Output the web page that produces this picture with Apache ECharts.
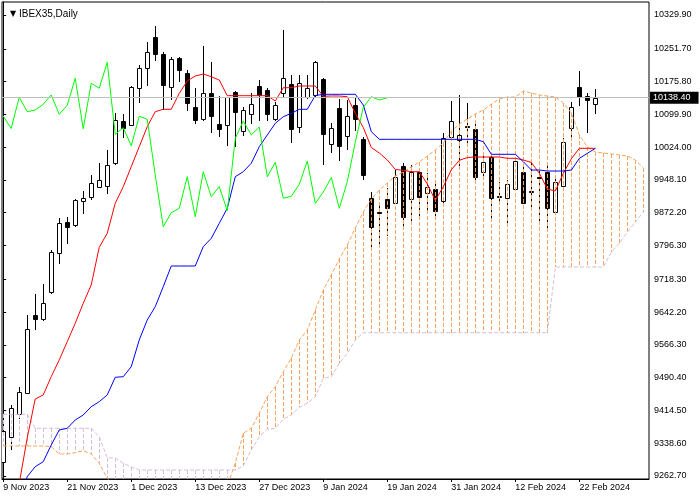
<!DOCTYPE html>
<html>
<head>
<meta charset="utf-8">
<script src="https://cdn.jsdelivr.net/npm/echarts@6/dist/echarts.min.js"></script>
<style>
  html, body { margin: 0; background: #fff; }
  #chart { width: 700px; height: 500px; }
</style>
</head>
<body>
<div id="chart"></div>
<script>
// date labels on the time axis (bar index -> label)
const dateBars = [0, 8, 16, 24, 32, 40, 48, 56, 64, 72];
const dateLabels = ['9 Nov 2023', '21 Nov 2023', '1 Dec 2023', '13 Dec 2023', '27 Dec 2023',
  '9 Jan 2024', '19 Jan 2024', '31 Jan 2024', '12 Feb 2024', '22 Feb 2024'];

// price scale tick labels
const priceTicks = [9262.7, 9338.6, 9414.5, 9490.4, 9566.3, 9642.2, 9718.3, 9796.3,
  9872.2, 9948.1, 10024.0, 10099.9, 10175.8, 10251.7, 10329.9];

// daily candles, bar 0 = 9 Nov 2023
const opens = [9295.8, 9352.2, 9406.2, 9454.1, 9635.4, 9626.8, 9689.3, 9778.2, 9850.7, 9843.0,
  9898.6, 9907.8, 9931.0, 9933.3, 9986.6, 10084.5, 10074.5, 10160.2, 10206.5, 10278.3,
  10238.9, 10163.9, 10229.6, 10194.9, 10116.2, 10088.4, 10148.6, 10076.8, 10074.5, 10151.6,
  10061.3, 10100.0, 10165.5, 10156.2, 10088.4, 10150.0, 10170.1, 10071.3, 10139.4, 10144.0,
  10181.7, 10031.2, 10113.9, 10049.1, 10121.5, 10042.8, 9905.5, 9873.8, 9903.2, 9894.0,
  9980.3, 9903.2, 9967.1, 9917.1, 9926.4, 9899.3, 10047.4, 10040.5, 10072.2, 10065.9,
  9967.1, 10001.8, 9911.6, 9905.5, 9926.4, 9965.7, 9921.3, 9954.8, 9967.1, 9873.1,
  9934.0, 10067.6, 10162.5, 10142.4, 10123.1];
const highs = [9419.4, 9427.0, 9468.0, 9635.4, 9684.0, 9707.1, 9785.8, 9859.2, 9861.6, 9903.0,
  9921.7, 9959.5, 9986.6, 10017.3, 10102.3, 10100.7, 10165.5, 10214.1, 10266.7, 10304.4,
  10244.2, 10233.3, 10232.6, 10202.5, 10160.2, 10258.1, 10221.8, 10142.4, 10141.2, 10154.6,
  10117.6, 10148.6, 10178.7, 10160.2, 10129.2, 10295.1, 10191.0, 10191.0, 10191.0, 10222.7,
  10184.0, 10080.5, 10135.4, 10133.1, 10137.0, 10047.4, 9920.1, 9897.7, 9929.4, 9971.0,
  9986.6, 9982.6, 9975.0, 9963.4, 9937.9, 10056.0, 10130.8, 10144.7, 10125.5, 10079.2,
  10009.7, 10005.8, 9943.9, 9947.9, 9998.1, 9978.7, 9986.6, 9978.7, 9986.6, 9951.8,
  10044.4, 10129.2, 10200.2, 10150.0, 10157.9];
const lows = [9284.2, 9324.5, 9397.6, 9454.1, 9602.3, 9624.5, 9687.0, 9756.4, 9802.7, 9841.0,
  9872.2, 9903.2, 9931.0, 9918.5, 9984.9, 10048.1, 10074.5, 10129.2, 10167.8, 10225.7,
  10111.6, 10135.3, 10177.8, 10109.9, 10080.5, 10086.8, 10059.7, 10050.5, 10028.9, 10026.6,
  10051.4, 10080.5, 10086.8, 10086.8, 10086.8, 10142.4, 10035.2, 10059.7, 10137.7, 10142.4,
  9984.2, 10013.4, 9994.2, 10019.7, 10063.6, 9949.5, 9792.8, 9792.8, 9820.6, 9894.0,
  9843.7, 9847.7, 9862.9, 9874.5, 9862.9, 9894.7, 10040.5, 9978.7, 10036.6, 9943.9,
  9955.5, 9862.9, 9894.0, 9846.9, 9926.4, 9894.0, 9886.1, 9851.4, 9839.8, 9873.1,
  9934.0, 10048.1, 10121.5, 10059.7, 10102.3];
const closes = [9367.5, 9419.4, 9456.4, 9602.3, 9626.8, 9662.5, 9780.5, 9847.3, 9839.8, 9900.9,
  9905.5, 9940.3, 9947.9, 9982.0, 10086.8, 10067.6, 10162.5, 10206.5, 10243.5, 10238.9,
  10167.1, 10227.3, 10202.5, 10125.5, 10086.8, 10148.6, 10096.1, 10067.1, 10139.4, 10106.0,
  10109.9, 10123.1, 10144.7, 10100.0, 10120.8, 10183.3, 10066.7, 10171.8, 10160.2, 10220.4,
  10053.7, 10069.0, 10027.3, 10095.4, 10088.4, 9959.5, 9839.8, 9872.2, 9882.4, 9955.5,
  9862.9, 9967.1, 9909.2, 9932.4, 9876.8, 10044.4, 10084.5, 10052.1, 10070.6, 9955.5,
  9988.9, 9905.5, 9910.2, 9937.9, 9991.9, 9894.0, 9920.1, 9953.7, 9882.4, 9944.0,
  10035.9, 10116.2, 10140.7, 10133.1, 10138.4];

// Ichimoku lines
const tenkan = [9190, 9220, 9245, 9350.6, 9440.9, 9450.2, 9492.5, 9531.2, 9573.6, 9616.2,
  9662.5, 9704.8, 9792.1, 9824.5, 9894.0, 9932.4, 9978.7, 10025.0, 10071.3, 10106.0,
  10111.6, 10111.6, 10148.6, 10177.1, 10188.7, 10193.3, 10187.0, 10179.4, 10143.1, 10143.1,
  10143.1, 10143.1, 10143.1, 10143.1, 10130.8, 10161.6, 10161.6, 10165.5, 10165.5, 10165.5,
  10141.7, 10142.4, 10142.4, 10140.7, 10102.3, 10069.4, 10023.1, 10010.4, 9994.2, 9972.2,
  9970.4, 9967.1, 9967.1, 9938.6, 9900.4, 9932.4, 9971.7, 9993.5, 10000.0, 10001.1,
  10001.1, 10001.1, 10001.1, 9998.1, 9998.1, 9994.2, 9988.4, 9963.4, 9927.1, 9922.4,
  9963.4, 9997.2, 10021.3, 10021.3, 10021.3];
const kijun = [9150, 9170, 9200, 9261.0, 9284.2, 9295.8, 9334.4, 9369.1, 9373.1, 9392.3,
  9403.9, 9423.1, 9434.7, 9450.2, 9491.2, 9492.5, 9515.7, 9577.5, 9623.8, 9654.6,
  9700.9, 9748.8, 9748.8, 9748.8, 9748.8, 9793.5, 9812.9, 9847.7, 9882.4, 9955.5,
  9967.1, 9986.6, 10025.0, 10052.1, 10079.2, 10094.4, 10102.3, 10111.6, 10111.6, 10143.5,
  10146.3, 10146.3, 10146.3, 10146.3, 10146.3, 10121.5, 10059.7, 10042.1, 10042.1, 10042.1,
  10042.1, 10042.1, 10042.1, 10042.1, 10042.1, 10042.1, 10042.1, 10042.1, 10042.1, 10042.1,
  10036.6, 10007.4, 10007.4, 10007.4, 10007.4, 9990.3, 9971.0, 9971.0, 9968.7, 9968.7,
  9968.7, 9971.0, 9998.1, 10009.7, 10021.3];
// lagging span, bars 0..48
const chikou = [10096.1, 10067.1, 10139.4, 10106.0, 10109.9, 10123.1, 10144.7, 10100.0, 10120.8, 10183.3,
  10066.7, 10171.8, 10160.2, 10220.4, 10053.7, 10069.0, 10027.3, 10095.4, 10088.4, 9959.5,
  9839.8, 9872.2, 9882.4, 9955.5, 9862.9, 9967.1, 9909.2, 9932.4, 9876.8, 10044.4,
  10084.5, 10052.1, 10070.6, 9955.5, 9988.9, 9905.5, 9910.2, 9937.9, 9991.9, 9894.0,
  9920.1, 9953.7, 9882.4, 9944.0, 10035.9, 10116.2, 10140.7, 10133.1, 10138.4];
// cloud, bars 0..80 (26 bars past the last candle)
const spanA = [9332.1, 9332.1, 9332.1, 9332.1, 9332.1, 9332.1, 9330.5, 9313.6, 9313.6, 9316.6,
  9321.2, 9313.6, 9292.1, 9257.3, 9240, 9240, 9240, 9240, 9240, 9240,
  9240, 9240, 9240, 9240, 9240, 9240, 9240, 9240, 9240, 9292.1,
  9361.5, 9373.1, 9407.8, 9446.2, 9469.4, 9504.1, 9535.1, 9577.5, 9600.6, 9646.9,
  9693.2, 9728.0, 9765.0, 9797.4, 9836.8, 9873.8, 9903.9, 9924.7, 9941.0, 9957.2,
  9966.4, 9978.0, 9989.6, 10003.5, 10017.3, 10033.6, 10061.3, 10077.5, 10089.1, 10100.7,
  10109.9, 10123.8, 10135.4, 10140.0, 10140.0, 10153.9, 10149.3, 10144.7, 10142.4, 10140.0,
  10126.2, 10103.0, 10052.1, 10024.3, 10012.7, 10010.4, 10008.1, 10005.8, 10003.5, 9994.2,
  9975.7];
const spanB = [9405.5, 9405.5, 9405.5, 9405.5, 9373.1, 9373.1, 9373.1, 9373.1, 9373.1, 9373.1,
  9373.1, 9373.1, 9353.6, 9305.0, 9304.3, 9292.1, 9283.5, 9276.5, 9276.5, 9276.5,
  9276.5, 9276.5, 9276.5, 9276.5, 9276.5, 9276.5, 9276.5, 9276.5, 9276.5, 9276.5,
  9285.8, 9322.8, 9353.6, 9370.8, 9373.1, 9393.9, 9403.9, 9421.7, 9431.0, 9446.2,
  9488.8, 9492.5, 9523.6, 9546.7, 9577.5, 9594.4, 9594.4, 9594.4, 9594.4, 9594.4,
  9594.4, 9594.4, 9594.4, 9594.4, 9594.4, 9594.4, 9594.4, 9594.4, 9594.4, 9594.4,
  9594.4, 9594.4, 9594.4, 9594.4, 9594.4, 9594.4, 9594.4, 9594.4, 9594.4, 9746.5,
  9746.5, 9746.5, 9746.5, 9746.5, 9746.5, 9746.5, 9781.2, 9802.1, 9827.5, 9850.7,
  9873.8];

const FONT = 'Liberation Sans';
const UP_KUMO = '#F4A460';
const DOWN_KUMO = '#D8BFD8';
const lastClose = closes[closes.length - 1];

const candleData = opens.map((o, i) => [i, o, highs[i], lows[i], closes[i]]);
const cloudData = spanA.map((a, i) => [i, a, spanB[i]]);
const toXY = (arr, offset = 0) => arr.map((v, i) => [i + offset, v]);

// MT4 style candle: hollow white up bar, filled black down bar
function renderCandle(params, api) {
  const k = api.value(0);
  const o = api.value(1), h = api.value(2), l = api.value(3), c = api.value(4);
  const x = Math.round(api.coord([k, o])[0]) + 0.5;
  const yo = api.coord([k, o])[1];
  const yc = api.coord([k, c])[1];
  const yh = api.coord([k, h])[1];
  const yl = api.coord([k, l])[1];
  const top = Math.round(Math.min(yo, yc)) + 0.5;
  const bot = Math.max(Math.round(Math.max(yo, yc)) + 0.5, top + 1);
  return {
    type: 'group',
    children: [
      { type: 'line', shape: { x1: x, y1: Math.round(yh), x2: x, y2: Math.round(yl) + 1 },
        style: { stroke: '#000', lineWidth: 1 } },
      { type: 'rect', shape: { x: x - 2, y: top, width: 4, height: bot - top },
        style: { fill: c >= o ? '#fff' : '#000', stroke: '#000', lineWidth: 1 } }
    ]
  };
}

// dashed vertical hatching between the two spans, snapped to whole pixels
function renderCloud(params, api) {
  const k = api.value(0);
  const a = api.value(1), b = api.value(2);
  const p1 = api.coord([k, a]);
  const p2 = api.coord([k, b]);
  const x = Math.round(p1[0]) + 0.5;
  const y1 = Math.round(Math.min(p1[1], p2[1]));
  const y2 = Math.round(Math.max(p1[1], p2[1]));
  return {
    type: 'line',
    shape: { x1: x, y1: y1, x2: x, y2: y2 },
    style: { stroke: a >= b ? UP_KUMO : DOWN_KUMO, lineWidth: 1, lineDash: [4, 2] }
  };
}

const chart = echarts.init(document.getElementById('chart'), null, { renderer: 'canvas' });

chart.setOption({
  animation: false,
  backgroundColor: '#fff',
  title: {
    left: 5, top: 4,
    text: '{t|▼} IBEX35,Daily',
    textStyle: {
      fontFamily: FONT, fontSize: 10, fontWeight: 'normal', color: '#000',
      rich: { t: { fontFamily: 'DejaVu Sans', fontSize: 8, color: '#000' } }
    }
  },
  grid: {
    left: 2, right: 51, top: 2, bottom: 21,
    show: true, borderColor: '#000', borderWidth: 1, backgroundColor: '#fff'
  },
  xAxis: {
    type: 'value',
    min: -0.15, max: 80.7,
    axisLine: { show: true, lineStyle: { color: '#000' } },
    axisTick: { show: true, customValues: dateBars, length: 3, lineStyle: { color: '#000' } },
    axisLabel: {
      customValues: dateBars,
      formatter: (v) => dateLabels[dateBars.indexOf(Math.round(v))],
      align: 'left', color: '#000', fontFamily: FONT, fontSize: 9, margin: 4
    },
    splitLine: { show: false }
  },
  yAxis: {
    type: 'value',
    position: 'right',
    min: 9255.7, max: 10360,
    axisLine: { show: true, lineStyle: { color: '#000' } },
    axisTick: { show: true, customValues: priceTicks, length: 3, lineStyle: { color: '#000' } },
    axisLabel: {
      customValues: priceTicks,
      formatter: (v) => v.toFixed(2),
      color: '#000', fontFamily: FONT, fontSize: 9, margin: 5
    },
    splitLine: { show: false }
  },
  series: [
    {
      name: 'bid', type: 'line', data: [], z: 1,
      markLine: {
        symbol: 'none', silent: true, animation: false,
        lineStyle: { color: '#c0c0c0', type: 'solid', width: 1 },
        label: {
          show: true, position: 'end', formatter: lastClose.toFixed(2),
          backgroundColor: '#000', color: '#fff', fontFamily: FONT, fontSize: 9,
          padding: [2, 8, 1, 3], distance: 1
        },
        data: [{ yAxis: lastClose }]
      }
    },
    {
      name: 'candles', type: 'custom', renderItem: renderCandle, clip: true, z: 2,
      encode: { x: 0, y: [1, 2, 3, 4] }, data: candleData
    },
    {
      name: 'cloud', type: 'custom', renderItem: renderCloud, clip: true, z: 3,
      encode: { x: 0, y: [1, 2] }, data: cloudData
    },
    {
      name: 'Senkou A', type: 'line', data: toXY(spanA), showSymbol: false, z: 3,
      lineStyle: { color: UP_KUMO, width: 1, type: [4, 2] }
    },
    {
      name: 'Senkou B', type: 'line', data: toXY(spanB), showSymbol: false, z: 3,
      lineStyle: { color: DOWN_KUMO, width: 1, type: [4, 2] }
    },
    {
      name: 'Tenkan', type: 'line', data: toXY(tenkan), showSymbol: false, z: 4,
      lineStyle: { color: '#FF0000', width: 1 }
    },
    {
      name: 'Kijun', type: 'line', data: toXY(kijun), showSymbol: false, z: 4,
      lineStyle: { color: '#0000FF', width: 1 }
    },
    {
      name: 'Chikou', type: 'line', data: toXY(chikou), showSymbol: false, z: 4,
      lineStyle: { color: '#00FF00', width: 1 }
    }
  ]
});

window.addEventListener('resize', () => chart.resize());
</script>
</body>
</html>
